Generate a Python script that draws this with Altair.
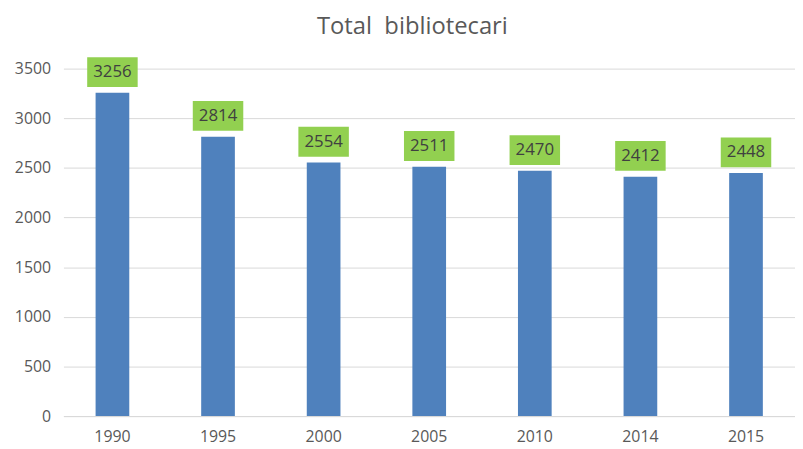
import altair as alt
import pandas as pd

years = ["1990", "1995", "2000", "2005", "2010", "2014", "2015"]
values = [3256, 2814, 2554, 2511, 2470, 2412, 2448]

df = pd.DataFrame({"year": years, "value": values})

FONT = "Open Sans"
GREY = "#595959"

x = alt.X("year:N", sort=years, title=None,
          scale=alt.Scale(paddingInner=0.681, paddingOuter=0.3045),
          axis=alt.Axis(labelAngle=0, labelFontSize=16, labelColor=GREY, labelFont=FONT,
                        ticks=False, domainColor="#d9d9d9", labelPadding=13, grid=False))
y = alt.Y("value:Q", title=None,
          scale=alt.Scale(domain=[0, 3500]),
          axis=alt.Axis(values=list(range(0, 3501, 500)), format="d", labelFontSize=16,
                        labelColor=GREY, labelFont=FONT, ticks=False, domain=False,
                        gridColor="#d9d9d9", labelPadding=13))

bars = alt.Chart(df).mark_bar(color="#4F81BD").encode(x=x, y=y)

box = alt.Chart(df).mark_point(
    shape="M-1,-0.59L1,-0.59L1,0.59L-1,0.59Z", size=2601, filled=True,
    color="#92D050", opacity=1, yOffset=-21
).encode(x=x, y=y)

labels = alt.Chart(df).mark_text(
    yOffset=-21, fontSize=17, color="#404040", font=FONT, baseline="middle"
).encode(x=x, y=y, text=alt.Text("value:Q", format="d"))

chart = alt.layer(bars, box, labels).properties(
    width=739, height=351,
    title=alt.TitleParams("Total\u00a0 bibliotecari", fontSize=24, font=FONT, color=GREY,
                          fontWeight="normal", anchor="middle", offset=18, dx=-17),
    autosize=alt.AutoSizeParams(type="none"),
    padding={"left": 56, "top": 59, "right": 0, "bottom": 30},
).configure_view(stroke=None)

chart.save("out.html", embed_options={"renderer": "svg", "actions": False})
